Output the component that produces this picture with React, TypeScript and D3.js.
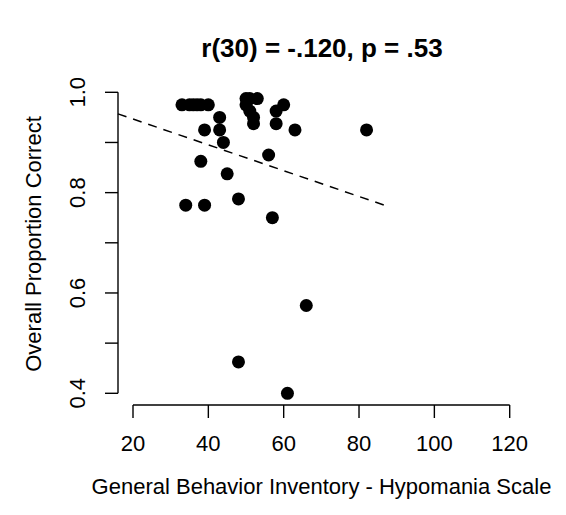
import React from "react";
import * as d3 from "d3";

const W = 566;
const H = 515;

const xTicks = [20, 40, 60, 80, 100, 120];
const yTicks = [0.4, 0.5, 0.6, 0.7, 0.8, 0.9, 1.0];
const yLabels = [0.4, 0.6, 0.8, 1.0];

const gbiScores = [33, 35, 37, 40, 43, 39, 43, 44, 38, 45, 56, 63, 34, 39, 48, 57, 66, 48, 61, 82, 58, 60, 58, 50, 53, 50, 51, 52, 52, 36, 38, 51];
const propCorrect = [0.975, 0.975, 0.975, 0.975, 0.95, 0.925, 0.925, 0.9, 0.8625, 0.8375, 0.875, 0.925, 0.775, 0.775, 0.7875, 0.75, 0.575, 0.4625, 0.4, 0.925, 0.9625, 0.975, 0.9375, 0.9875, 0.9875, 0.975, 0.9625, 0.95, 0.9375, 0.975, 0.975, 0.9875];

const fitX = [16, 87.5];
const fitY = [0.957, 0.773];

const title = "r(30) = -.120, p = .53";
const xTitle = "General Behavior Inventory - Hypomania Scale";
const yTitle = "Overall Proportion Correct";

export default function App() {
  const x = d3.scaleLinear().domain([20, 120]).range([133, 509.7]);
  const y = d3.scaleLinear().domain([0.4, 1.0]).range([393.3, 92.3]);
  const font = "Liberation Sans, Arial, Helvetica, sans-serif";
  const axisY = 405;
  const axisX = 118;
  const line = d3
    .line<number>()
    .x((d) => x(d))
    .y((_, i) => y(fitY[i]));
  return (
    <svg
      width={W}
      height={H}
      style={{ position: "absolute", left: 0, top: 0, background: "#fff" }}
      fontFamily={font}
    >
      <rect width={W} height={H} fill="#fff" />
      <text x={322} y={57} textAnchor="middle" fontSize={26} fontWeight="bold">
        {title}
      </text>
      {/* x axis */}
      <line x1={x(20)} x2={x(120)} y1={axisY} y2={axisY} stroke="#000" strokeWidth={1.4} />
      {xTicks.map((t) => (
        <g key={t}>
          <line x1={x(t)} x2={x(t)} y1={axisY} y2={axisY + 13} stroke="#000" strokeWidth={1.4} />
          <text x={x(t)} y={451} textAnchor="middle" fontSize={22}>
            {t}
          </text>
        </g>
      ))}
      {/* y axis */}
      <line x1={axisX} x2={axisX} y1={y(0.4)} y2={y(1.0)} stroke="#000" strokeWidth={1.4} />
      {yTicks.map((t) => (
        <line key={t} x1={axisX - 13} x2={axisX} y1={y(t)} y2={y(t)} stroke="#000" strokeWidth={1.4} />
      ))}
      {yLabels.map((t) => (
        <text
          key={t}
          transform={`translate(85,${y(t)}) rotate(-90)`}
          textAnchor="middle"
          fontSize={22}
        >
          {t.toFixed(1)}
        </text>
      ))}
      <text transform={`translate(41,244) rotate(-90)`} textAnchor="middle" fontSize={22}>
        {yTitle}
      </text>
      <text x={321.5} y={494} textAnchor="middle" fontSize={22}>
        {xTitle}
      </text>
      <path d={line(fitX) || ""} fill="none" stroke="#000" strokeWidth={1.5} strokeDasharray="9,7" />
      {gbiScores.map((g, i) => (
        <circle key={i} cx={x(g)} cy={y(propCorrect[i])} r={6.5} fill="#000" />
      ))}
    </svg>
  );
}
